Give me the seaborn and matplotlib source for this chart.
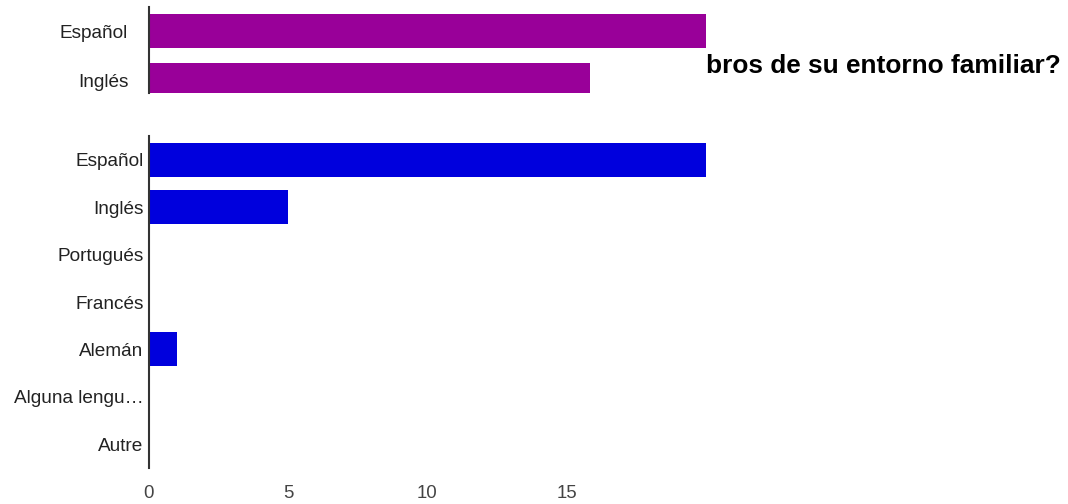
import matplotlib
matplotlib.use("Agg")
import matplotlib.pyplot as plt
import seaborn as sns

# data
top_langs = ["Español", "Inglés"]
top_counts = [24, 19]

langs = ["Español", "Inglés", "Portugués", "Francés", "Alemán",
         "Alguna lengu…", "Autre"]
counts = [20, 5, 0, 0, 1, 0, 0]

xticks = [0, 5, 10, 15]
title_tail = "bros de su entorno familiar?"

sns.set_style("white")
plt.rcParams['font.family'] = ['Liberation Sans', 'DejaVu Sans']

fig = plt.figure(figsize=(10.68, 5.04), dpi=100)

# top chart (partly hidden under the second one)
ax1 = fig.add_axes([0.1395, 0.8155, 0.5215, 0.1716])
sns.barplot(x=top_counts, y=top_langs, color="#990099", saturation=1,
            width=0.70, orient="h", linewidth=0, ax=ax1)
ax1.set_xlim(0, max(top_counts))
ax1.set_ylim(1.265, -0.5)
ax1.set_xticks([])
ax1.tick_params(axis="y", length=0, pad=15, labelsize=13.7, labelcolor="#222222")

# bottom chart
ax2 = fig.add_axes([0.1395, 0.0714, 0.5215, 0.6587])
sns.barplot(x=counts, y=langs, color="#0000DD", saturation=1,
            width=0.716, orient="h", linewidth=0, ax=ax2)
ax2.set_xlim(0, 20)
ax2.set_ylim(6.5, -0.5)
ax2.set_xticks(xticks)
ax2.tick_params(axis="y", length=0, pad=4, labelsize=13.7, labelcolor="#222222")
ax2.tick_params(axis="x", length=0, pad=12, labelsize=13.4, labelcolor="#444444")

for ax in (ax1, ax2):
    ax.set_xlabel("")
    ax.set_ylabel("")
    for s in ("top", "right", "bottom"):
        ax.spines[s].set_visible(False)
    ax.spines["left"].set_color("#333333")
    ax.spines["left"].set_linewidth(1.5)
    ax.grid(False)

fig.text(0.661, 0.8558, title_tail, fontsize=18.9, fontweight="bold",
         color="#000000", va="baseline", ha="left")

fig.savefig("out.png", dpi=100)
